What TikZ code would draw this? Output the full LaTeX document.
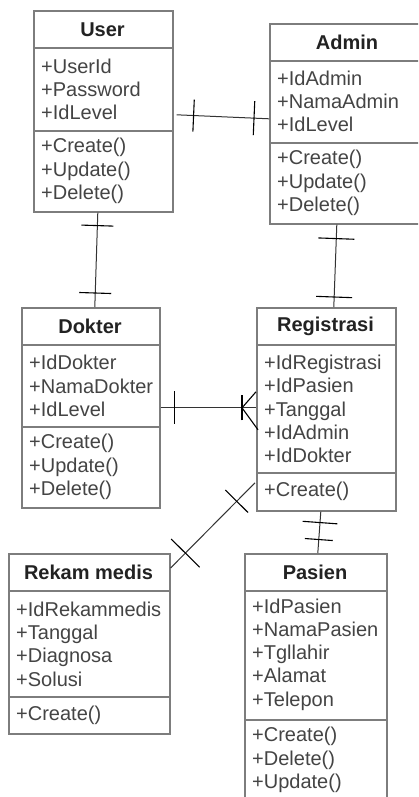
\documentclass[tikz,border=0pt]{standalone}
\usepackage{fontspec}
\setmainfont{Liberation Sans}
\usetikzlibrary{calc}
\definecolor{boxc}{RGB}{125,125,125}
\definecolor{titc}{RGB}{34,34,34}
\definecolor{txtc}{RGB}{68,68,68}
\tikzset{
 cls/.style={draw=boxc, line width=1.6pt, rectangle, inner sep=0pt, anchor=north west},
 sepline/.style={draw=boxc, line width=1.6pt},
 ttl/.style={font=\fontsize{20}{23.3}\selectfont\bfseries, text=titc, inner sep=0pt},
 attr/.style={font=\fontsize{20}{23.3}\selectfont, text=txtc, align=left, inner sep=0pt, anchor=west},
 conn/.style={draw=black!80, line width=1pt},
 tickline/.style={draw=black, line width=1.1pt},
}
\newcommand\tickmark[4]{\draw[tickline] ($(#1)!#3!(#2)!#4!90:(#2)$) -- ($(#1)!#3!(#2)!#4!-90:(#2)$);}
\begin{document}
\begin{tikzpicture}[x=1pt,y=-1pt]
\useasboundingbox (0,0) rectangle (418,797);
\clip (0,0) rectangle (418,797);
\fill[white] (0,0) rectangle (418,797);

% User
\node[cls, minimum width=139pt, minimum height=201pt] (user) at (33,10) {};
\draw[sepline] (33,48) -- (172,48);
\draw[sepline] (33,131) -- (172,131);
\node[ttl] (usert) at (102.5,29.5) {User};
\node[attr] (usera) at (41,89.5) {+UserId\\+Password\\+IdLevel};
\node[attr] (userm) at (41,171) {+Create()\\+Update()\\+Delete()};

% Admin
\node[cls, minimum width=156pt, minimum height=200pt] (admin) at (269,23) {};
\draw[sepline] (269,61) -- (425,61);
\draw[sepline] (269,143) -- (425,143);
\node[ttl] (admint) at (347,42) {Admin};
\node[attr] (admina) at (277,101.5) {+IdAdmin\\+NamaAdmin\\+IdLevel};
\node[attr] (adminm) at (277,183) {+Create()\\+Update()\\+Delete()};

% Dokter
\node[cls, minimum width=138pt, minimum height=200pt] (dokter) at (21,307) {};
\draw[sepline] (21,345) -- (159,345);
\draw[sepline] (21,427) -- (159,427);
\node[ttl] (doktert) at (90,326) {Dokter};
\node[attr] (doktera) at (29,386) {+IdDokter\\+NamaDokter\\+IdLevel};
\node[attr] (dokterm) at (29,467) {+Create()\\+Update()\\+Delete()};

% Registrasi
\node[cls, minimum width=139pt, minimum height=203pt] (reg) at (256,307) {};
\draw[sepline] (256,345) -- (395,345);
\draw[sepline] (256,473) -- (395,473);
\node[ttl] (regt) at (325.5,326) {Registrasi};
\node[attr] (rega) at (264,409) {+IdRegistrasi\\+IdPasien\\+Tanggal\\+IdAdmin\\+IdDokter};
\node[attr] (regm) at (264,491.5) {+Create()};

% Rekam medis
\node[cls, minimum width=161pt, minimum height=180pt] (rekam) at (8,553) {};
\draw[sepline] (8,591) -- (169,591);
\draw[sepline] (8,697) -- (169,697);
\node[ttl] (rekamt) at (88.5,572) {Rekam medis};
\node[attr] (rekama) at (16,644) {+IdRekammedis\\+Tanggal\\+Diagnosa\\+Solusi};
\node[attr] (rekamm) at (16,715) {+Create()};

% Pasien
\node[cls, minimum width=142pt, minimum height=250pt] (pasien) at (244,553) {};
\draw[sepline] (244,591) -- (386,591);
\draw[sepline] (244,720) -- (386,720);
\node[ttl] (pasient) at (315,572) {Pasien};
\node[attr] (pasiena) at (252,654.5) {+IdPasien\\+NamaPasien\\+Tgllahir\\+Alamat\\+Telepon};
\node[attr] (pasienm) at (252,760) {+Create()\\+Delete()\\+Update()};

% connector end points
\coordinate (ua1) at ([xshift=3pt,yshift=-3.5pt]user.east);
\coordinate (ua2) at ([yshift=5pt]admin.west);
\coordinate (ud1) at ([xshift=-5.5pt]user.south);
\coordinate (ud2) at ([xshift=4pt]dokter.north);
\coordinate (ar1) at ([xshift=-11pt]admin.south);
\coordinate (ar2) at ([xshift=7.5pt]reg.north);
\coordinate (dr1) at (dokter.east);
\coordinate (dr2) at ([yshift=1.5pt]reg.west);
\coordinate (rr1) at ([xshift=-1pt,yshift=-73.5pt]reg.west);
\coordinate (rr2) at ([yshift=-15pt]rekam.north east);
\coordinate (rp1) at ([xshift=-5.5pt]reg.south);
\coordinate (rp2) at ([xshift=2pt]pasien.north);

% User - Admin
\draw[conn] (ua1) -- (ua2);
\tickmark{ua1}{ua2}{17pt}{16pt}
\tickmark{ua2}{ua1}{15pt}{17pt}

% User - Dokter
\draw[conn] (ud1) -- (ud2);
\tickmark{ud1}{ud2}{13pt}{16pt}
\tickmark{ud2}{ud1}{14pt}{16pt}

% Admin - Registrasi
\draw[conn] (ar1) -- (ar2);
\tickmark{ar1}{ar2}{14pt}{18pt}
\tickmark{ar2}{ar1}{10pt}{18pt}

% Dokter - Registrasi
\draw[conn] (dr1) -- (dr2);
\tickmark{dr1}{dr2}{14pt}{16.5pt}
\tickmark{dr2}{dr1}{14pt}{12.5pt}
\coordinate (crow) at ($(dr2)!14pt!(dr1)$);
\draw[tickline] ([yshift=16pt]dr2) -- (crow) -- ([yshift=-22pt,xshift=2pt]dr2);

% Registrasi - Rekam medis
\draw[conn] (rr1) -- (rr2);
\tickmark{rr1}{rr2}{26pt}{16pt}
\tickmark{rr2}{rr1}{21pt}{20pt}

% Registrasi - Pasien
\draw[conn] (rp1) -- (rp2);
\tickmark{rp1}{rp2}{11pt}{17.5pt}
\tickmark{rp1}{rp2}{28pt}{14pt}
\end{tikzpicture}
\end{document}
